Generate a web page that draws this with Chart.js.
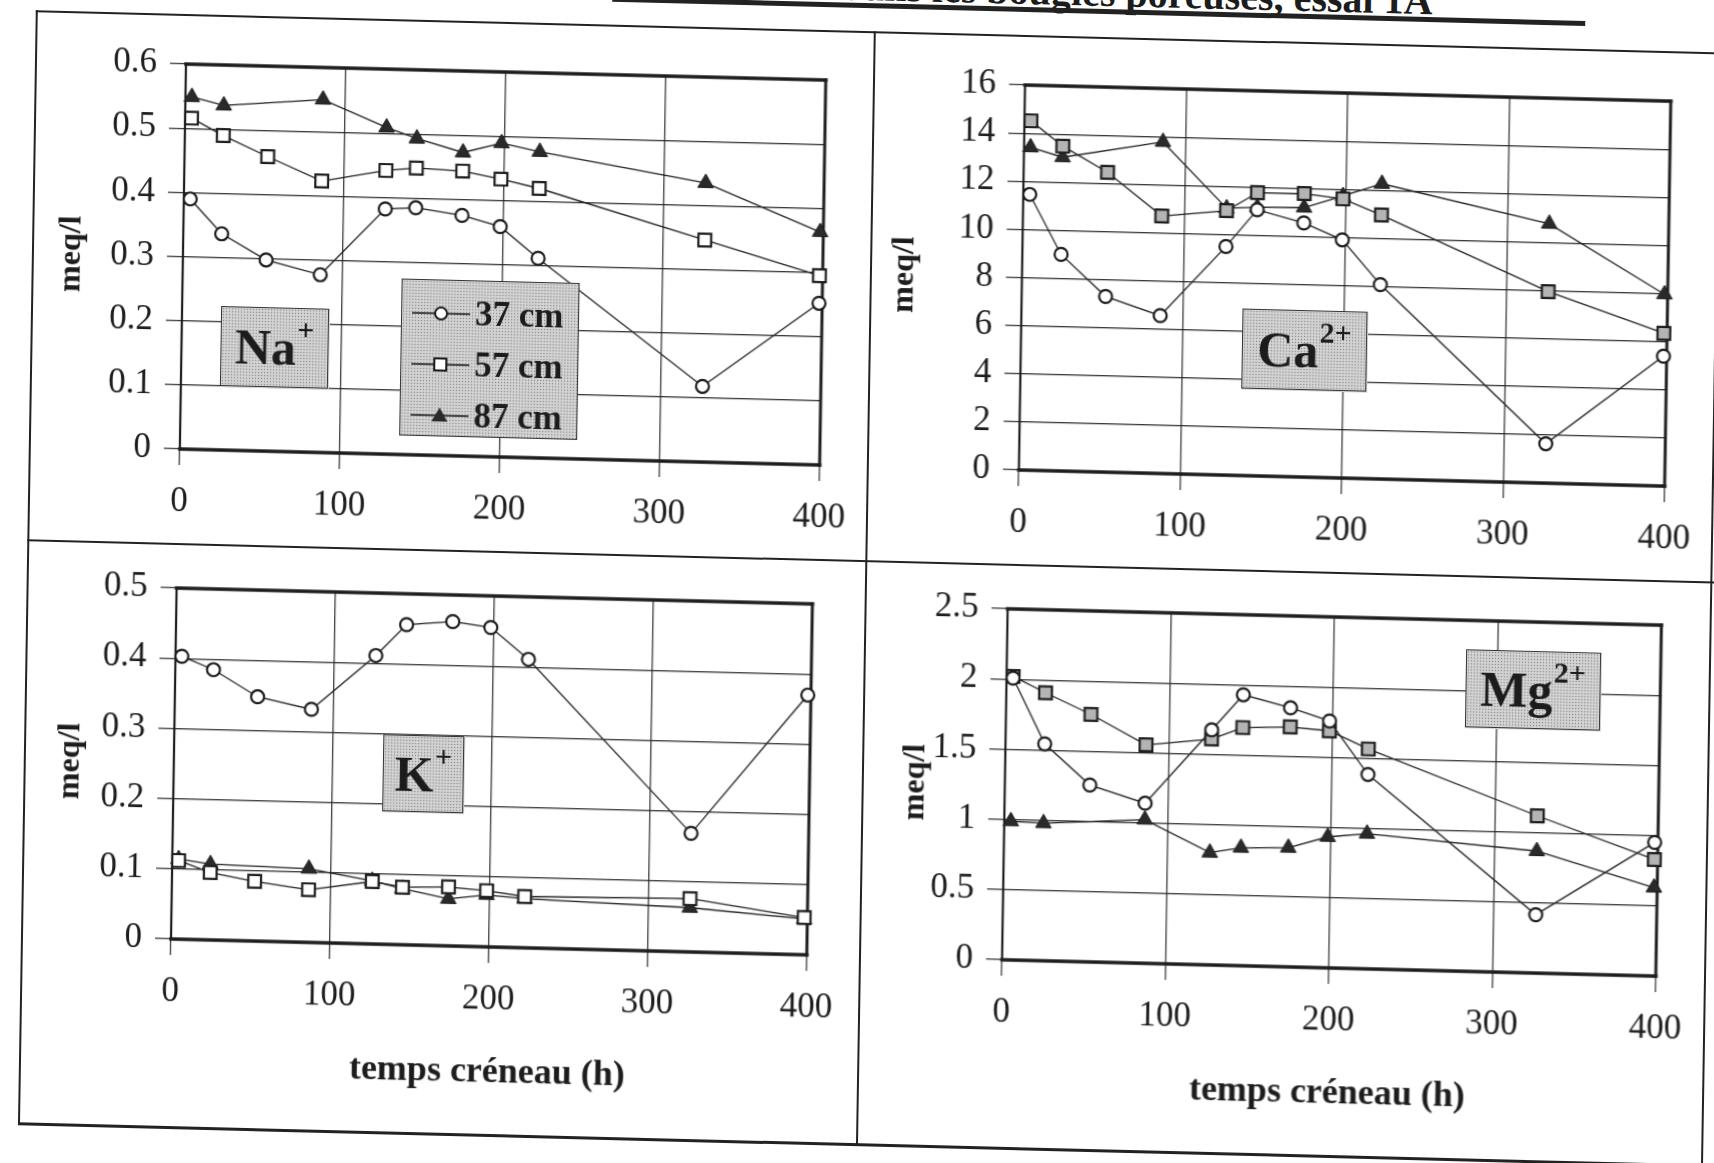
<!DOCTYPE html>
<html>
<head>
<meta charset="utf-8">
<script src="https://cdn.jsdelivr.net/npm/chart.js@4.4.0/dist/chart.umd.min.js"></script>
<style>
  html, body { margin:0; padding:0; background:#fff; overflow:hidden; }
  body { width:1714px; height:1163px; position:relative; }
  #page { position:absolute; left:0; top:0; width:1714px; height:1163px;
          transform: matrix(1, 0.025, -0.016, 1, 0, 0); transform-origin: 857px 581px; }
  .rule { position:absolute; background:#222; }
  canvas { position:absolute; }
  .tag { position:absolute; box-sizing:border-box; border:1.5px solid #333;
         background-color:#d6d6d6;
         background-image: radial-gradient(circle, #8c8c8c 0.7px, transparent 1.1px);
         background-size:3px 3px;
         font-family:'Liberation Serif', 'Times New Roman', serif; font-weight:bold; color:#1c1c1c; }
  .ion { display:flex; align-items:center; justify-content:center; font-size:50px; line-height:1; }
  .ion .sup { font-size:30px; position:relative; top:-18px; margin-left:1px; }
  .row { height:51px; line-height:51px; display:flex; align-items:center; padding-left:10px; font-size:35px; }
  .row svg { margin-right:5px; }
  #titre { position:absolute; right:291px; top:-33px; white-space:nowrap;
           font-family:'Liberation Serif', serif; font-weight:bold; font-size:40px; line-height:40px; color:#1c1c1c; }
</style>
</head>
<body>
<div id="page">
  <div id="titre">Concentrations en cations dans les bougies poreuses, essai 1A</div>
  <div class="rule" style="left:603px; top:3px; width:973px; height:5px;"></div>

  <div class="rule" style="left:27px; top:31px; width:1700px; height:2px;"></div>
  <div class="rule" style="left:27px; top:31px; width:2px; height:1114px;"></div>
  <div class="rule" style="left:865px; top:31px; width:1.5px; height:1114px;"></div>
  <div class="rule" style="left:1710px; top:31px; width:2px; height:1114px;"></div>
  <div class="rule" style="left:27px; top:560px; width:1700px; height:2px;"></div>
  <div class="rule" style="left:27px; top:1143px; width:1700px; height:2.5px;"></div>

  <canvas id="na" width="816" height="489" style="left:44px; top:47px;"></canvas>
  <canvas id="ca" width="828" height="489" style="left:877px; top:47px;"></canvas>
  <canvas id="k" width="804" height="536" style="left:51px; top:571px;"></canvas>
  <canvas id="mg" width="808" height="536" style="left:896px; top:571px;"></canvas>

  <div class="tag ion" style="left:217px; top:322px; width:108px; height:80px;">Na<span class="sup">+</span></div>
  <div class="tag" id="legende" style="left:397px; top:290px; width:178px; height:157px; padding-top:7px; box-sizing:border-box;"></div>
  <div class="tag ion" style="left:1238px; top:299px; width:125px; height:80px;">Ca<span class="sup">2+</span></div>
  <div class="tag ion" style="left:386px; top:746px; width:81px; height:77px;">K<span class="sup">+</span></div>
  <div class="tag ion" style="left:1467px; top:634px; width:135px; height:78px;">Mg<span class="sup">2+</span></div>
</div>

<script>
// temps créneau (h), common to all series
const temps = [4, 24, 52, 86, 126, 145, 174, 198, 222, 326, 398];
const profondeurs = ["37 cm", "57 cm", "87 cm"];
const xTicks = [0, 100, 200, 300, 400];

// Na+ (meq/l)
const na37 = [0.39, 0.337, 0.298, 0.277, 0.382, 0.385, 0.375, 0.359, 0.311, 0.118, 0.252];
const na57 = [0.516, 0.49, 0.459, 0.423, 0.442, 0.447, 0.444, 0.433, 0.42, 0.346, 0.295];
const na87 = [0.549, 0.537, null, 0.55, 0.509, 0.493, 0.473, 0.489, 0.477, 0.435, 0.363];
const naAxis = [0, 0.6, 0.1];

// Ca2+ (meq/l)
const ca37 = [11.46, 9.0, 7.3, 6.56, 9.5, 11.06, 10.56, 9.9, 8.08, 1.64, 5.4];
const ca57 = [14.52, 13.5, 12.46, 10.7, 10.99, 11.77, 11.78, 11.6, 10.97, 7.96, 6.35];
const ca87 = [13.42, 13.04, null, 13.78, 11.09, 11.16, 11.2, 11.72, 12.27, 10.78, 7.97];
const caAxis = [0, 16, 2];

// K+ (meq/l)
const k37 = [0.403, 0.385, 0.348, 0.332, 0.411, 0.456, 0.462, 0.455, 0.411, 0.169, 0.37];
const k57 = [0.112, 0.096, 0.085, 0.075, 0.089, 0.082, 0.084, 0.08, 0.073, 0.076, 0.053];
const k87 = [0.114, 0.108, null, 0.105, 0.09, 0.08, 0.067, 0.074, 0.07, 0.063, 0.051];
const kAxis = [0, 0.5, 0.1];

// Mg2+ (meq/l)
const mg37 = [2.008, 1.545, 1.26, 1.14, 1.674, 1.93, 1.845, 1.758, 1.385, 0.416, 0.952];
const mg57 = [2.02, 1.909, 1.763, 1.556, 1.609, 1.696, 1.709, 1.688, 1.566, 1.12, 0.83];
const mg87 = [0.988, 0.98, null, 1.023, 0.8, 0.84, 0.849, 0.933, 0.963, 0.869, 0.63];
const mgAxis = [0, 2.5, 0.5];

const serif = "'Liberation Serif', 'Times New Roman', serif";
const ink = "#1c1c1c";

function pts(vals) {
    let out = [];
    vals.forEach((v, i) => { if (v !== null) out.push({x: temps[i], y: v}); });
    return out;
}

function seg(ctx, x1, y1, x2, y2, w) {
    ctx.lineWidth = w;
    ctx.beginPath();
    ctx.moveTo(x1, y1);
    ctx.lineTo(x2, y2);
    ctx.stroke();
}

// plot frame: thick top/bottom/right, thinner left axis
const cadre = {
    id: "cadre",
    beforeDatasetsDraw(chart) {
        const {ctx, chartArea: a} = chart;
        ctx.save();
        ctx.strokeStyle = ink;
        ctx.lineCap = "square";
        seg(ctx, a.left, a.top, a.right, a.top, 3.5);
        seg(ctx, a.left, a.bottom, a.right, a.bottom, 3.5);
        seg(ctx, a.right, a.top, a.right, a.bottom, 3);
        seg(ctx, a.left, a.top, a.left, a.bottom, 2.2);
        ctx.restore();
    }
};

function createChart(id, series, axis, yw, xh, withTitle, squareFill) {
    const base = {borderColor: ink, borderWidth: 1.3, tension: 0, clip: false, pointBorderColor: ink};
    const ctx = document.getElementById(id);

    return new Chart(ctx, {
        type: "line",
        data: {
            datasets: [
                Object.assign({label: profondeurs[0], data: pts(series[0]), pointStyle: "circle",
                    pointRadius: 6.5, pointBackgroundColor: "#fff", pointBorderWidth: 2.2}, base),
                Object.assign({label: profondeurs[1], data: pts(series[1]), pointStyle: "rect",
                    pointRadius: 9, pointBackgroundColor: squareFill, pointBorderWidth: 2.2}, base),
                Object.assign({label: profondeurs[2], data: pts(series[2]), pointStyle: "triangle",
                    pointRadius: 9, pointBackgroundColor: "#2a2a2a", pointBorderWidth: 1}, base)
            ]
        },
        options: {
            responsive: false,
            animation: false,
            layout: {padding: {top: 30, right: 30, left: 0, bottom: 0}},
            plugins: {legend: {display: false}, tooltip: {enabled: false}},
            scales: {
                x: {
                    type: "linear",
                    min: 0,
                    max: 400,
                    afterBuildTicks: s => { s.ticks = xTicks.map(v => ({value: v})); },
                    ticks: {font: {family: serif, size: 35}, color: ink, padding: 16, maxRotation: 0},
                    grid: {color: "#2b2b2b", lineWidth: 1.2, tickLength: 16},
                    border: {display: false},
                    title: {display: withTitle, text: "temps créneau (h)", color: ink,
                        font: {family: serif, size: 36, weight: "bold"}, padding: {top: 0, bottom: 4}},
                    afterFit: s => { s.height = xh; }
                },
                y: {
                    min: axis[0],
                    max: axis[1],
                    ticks: {stepSize: axis[2], font: {family: serif, size: 35}, color: ink, padding: 13,
                        callback: v => String(+v.toFixed(2))},
                    grid: {color: "#2b2b2b", lineWidth: 1.2, tickLength: 16},
                    border: {display: false},
                    title: {display: true, text: "meq/l", color: ink,
                        font: {family: serif, size: 32, weight: "bold"}, padding: {top: 4, bottom: 0}},
                    afterFit: s => { s.width = yw; }
                }
            }
        },
        plugins: [cadre]
    });
}

createChart("na", [na37, na57, na87], naAxis, 134, 70, false, "#fff");
createChart("ca", [ca37, ca57, ca87], caAxis, 140, 70, false, "#b4b4b4");
createChart("k", [k37, k57, k87], kAxis, 126, 151, true, "#fff");
createChart("mg", [mg37, mg57, mg87], mgAxis, 112, 151, true, "#b4b4b4");

// legend box of the Na+ panel
const marks = [
    '<circle cx="29" cy="10" r="6" fill="#fff" stroke="' + ink + '" stroke-width="2"/>',
    '<rect x="23" y="4" width="12" height="12" fill="#fff" stroke="' + ink + '" stroke-width="2"/>',
    '<polygon points="29,2 37,16 21,16" fill="#2a2a2a"/>'
];
const legende = document.getElementById("legende");
profondeurs.forEach((p, i) => {
    legende.insertAdjacentHTML("beforeend",
        '<div class="row"><svg width="58" height="20"><line x1="0" y1="10" x2="58" y2="10" stroke="' + ink +
        '" stroke-width="1.3"/>' + marks[i] + '</svg><span>' + p + '</span></div>');
});
</script>
</body>
</html>
